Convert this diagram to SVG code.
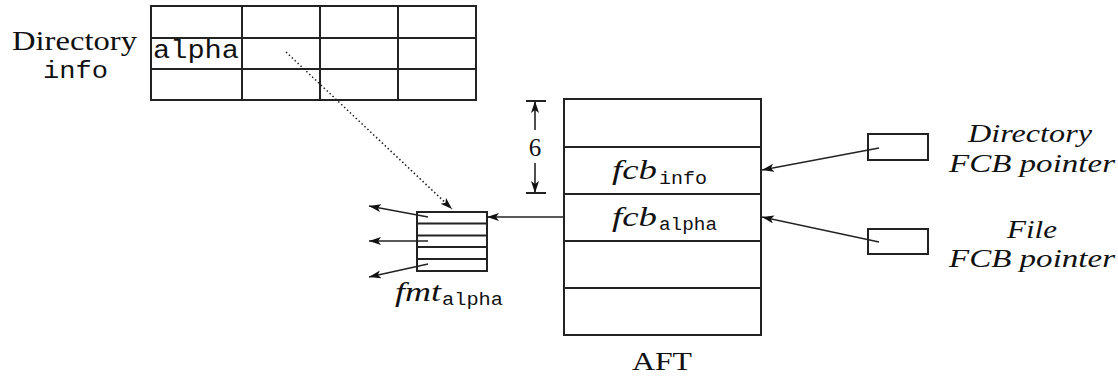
<svg xmlns="http://www.w3.org/2000/svg" width="1118" height="376" viewBox="0 0 1118 376">
<style>
.box{fill:#fff;stroke:#222;stroke-width:2}
.ln{stroke:#222;stroke-width:2;fill:none}
.arr{stroke:#222;stroke-width:1.4;fill:none;marker-end:url(#ah)}
.serif{font-family:"Liberation Serif","Times New Roman",serif;fill:#111}
.it{font-style:italic}
.mono{font-family:"Liberation Mono","Courier New",monospace;fill:#111}
</style>
<defs>
<marker id="ah" markerUnits="userSpaceOnUse" markerWidth="14" markerHeight="10" refX="12" refY="4" orient="auto">
<path d="M0,0 L12,4 L0,8 L3,4 z" fill="#111"/>
</marker>
</defs>

<g id="directory-label">
<text class="serif" x="12" y="50" font-size="28" textLength="125" lengthAdjust="spacingAndGlyphs">Directory</text>
<text class="mono" x="43" y="78" font-size="24" textLength="65" lengthAdjust="spacingAndGlyphs">info</text>
</g>

<g id="directory-table">
<rect class="box" x="151" y="6" width="325" height="94"/>
<path class="ln" d="M242,6V100M320,6V100M398,6V100M151,38H476M151,69H476"/>
<text class="mono" x="153" y="58" font-size="25" textLength="86" lengthAdjust="spacingAndGlyphs">alpha</text>
</g>

<g id="aft">
<rect class="box" x="564" y="99" width="197" height="236"/>
<path class="ln" d="M564,147H761M564,194H761M564,241H761M564,288H761"/>
<text class="serif it" x="612" y="179" font-size="28" textLength="45" lengthAdjust="spacingAndGlyphs">fcb</text>
<text class="mono" x="659" y="184" font-size="19" textLength="48" lengthAdjust="spacingAndGlyphs">info</text>
<text class="serif it" x="612" y="226" font-size="28" textLength="45" lengthAdjust="spacingAndGlyphs">fcb</text>
<text class="mono" x="659" y="230" font-size="19" textLength="58" lengthAdjust="spacingAndGlyphs">alpha</text>
<text class="serif" x="632" y="370" font-size="26" textLength="60" lengthAdjust="spacingAndGlyphs">AFT</text>
</g>

<g id="dimension">
<path class="ln" d="M526,101H546M526,193H546" stroke-width="1.6"/>
<text class="serif" x="535" y="156" font-size="25" text-anchor="middle">6</text>
</g>

<g id="fmt">
<rect class="box" x="417" y="212" width="70" height="59"/>
<path class="ln" d="M417,223.5H487M417,235.5H487M417,247H487M417,259H487"/>
<text class="serif it" x="395" y="301" font-size="28" textLength="46" lengthAdjust="spacingAndGlyphs">fmt</text>
<text class="mono" x="442" y="305" font-size="19" textLength="61" lengthAdjust="spacingAndGlyphs">alpha</text>
</g>

<g id="dir-fcb-pointer">
<rect class="box" x="868" y="134" width="60" height="26"/>
<text class="serif it" x="968" y="142" font-size="26" textLength="124" lengthAdjust="spacingAndGlyphs">Directory</text>
<text class="serif it" x="949" y="172" font-size="26" textLength="166" lengthAdjust="spacingAndGlyphs">FCB pointer</text>
</g>

<g id="file-fcb-pointer">
<rect class="box" x="868" y="229" width="60" height="25"/>
<text class="serif it" x="1007" y="238" font-size="25" textLength="50" lengthAdjust="spacingAndGlyphs">File</text>
<text class="serif it" x="949" y="267" font-size="26" textLength="166" lengthAdjust="spacingAndGlyphs">FCB pointer</text>
</g>

<g id="connectors">
<line class="arr" x1="564" y1="217" x2="487" y2="217"/>
<line class="arr" x1="428" y1="217" x2="369" y2="206"/>
<line class="arr" x1="428" y1="241" x2="369" y2="241"/>
<line class="arr" x1="428" y1="264" x2="369" y2="277"/>
<line x1="286" y1="52" x2="452" y2="209" stroke="#222" stroke-width="1.6" stroke-dasharray="1.5,2.5" marker-end="url(#ah)"/>
<line class="arr" x1="879" y1="148" x2="762" y2="170"/>
<line class="arr" x1="879" y1="242" x2="762" y2="217"/>
<line x1="535" y1="130" x2="535" y2="101" stroke="#222" stroke-width="1.6" marker-end="url(#ah)"/>
<line x1="535" y1="163" x2="535" y2="193" stroke="#222" stroke-width="1.6" marker-end="url(#ah)"/>
</g>
</svg>
